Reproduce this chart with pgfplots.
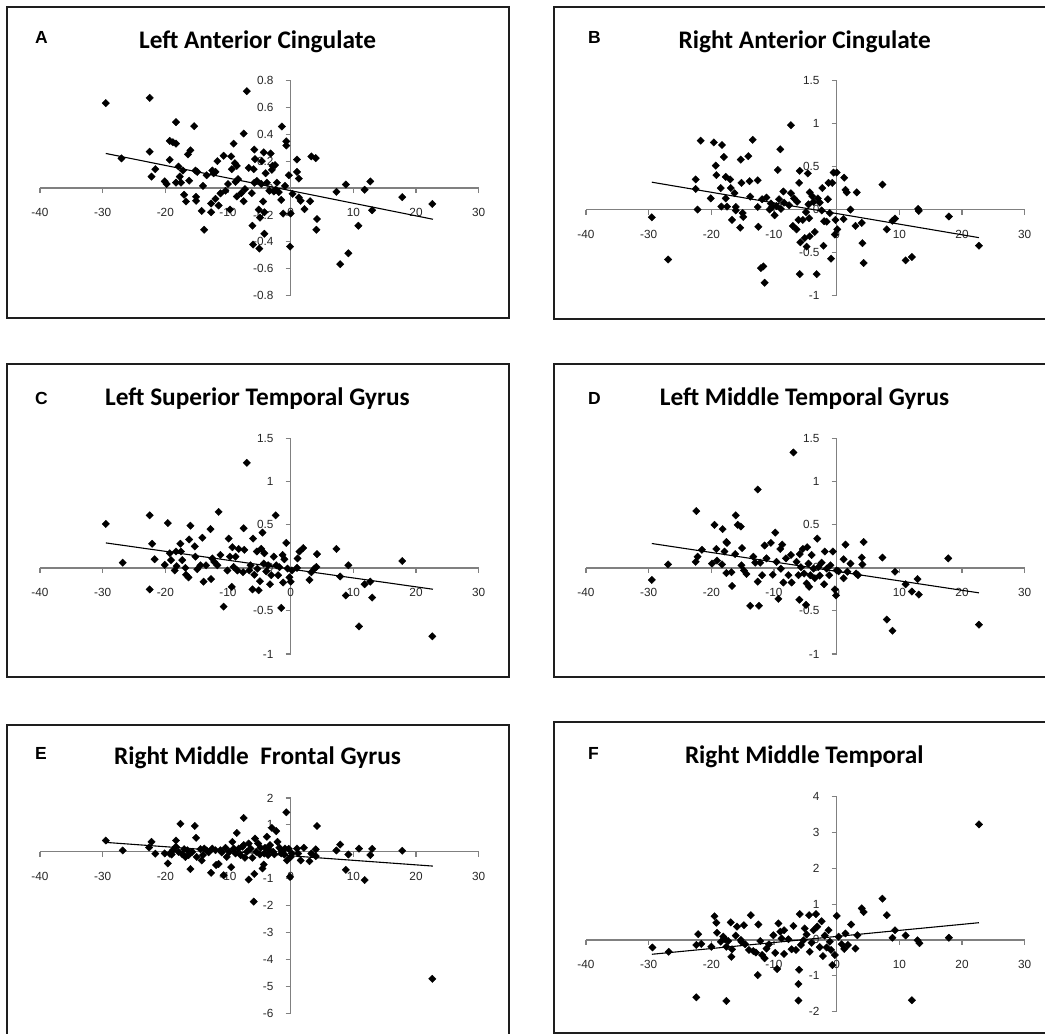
\documentclass[border=0pt]{standalone}
\usepackage{pgfplots}
\pgfplotsset{compat=1.18}
\usepackage{fontspec}
\setmainfont{Liberation Sans}
\newfontfamily\titlefont{Carlito}
\definecolor{axgray}{HTML}{808080}
\definecolor{framec}{HTML}{1E1E1E}
\pgfplotsset{
  panel/.style={
    scale only axis, width=438.7pt, height=215.3pt,
    axis lines=middle, xmin=-40, xmax=30,
    xtick={-40,-30,-20,-10,0,10,20,30},
    axis line style={draw=axgray, line width=1.3pt, -},
    tick style={draw=axgray, line width=1.1pt},
    tick align=outside, major tick length=5pt,
    hide obscured x ticks=false, hide obscured y ticks=false,
    clip=false,
    /pgf/number format/assume math mode=true,
    ticklabel style={font=\fontsize{11.8}{13}\selectfont, text=black!85},
    xticklabel style={anchor=north, inner sep=0pt, yshift=-15.5pt},
    yticklabel style={anchor=east, inner sep=0pt, xshift=-12pt},
  },
  pts/.style={only marks, mark=square*, mark size=2.6pt,
    mark options={rotate=45, fill=black, draw=black}},
  reg/.style={black, line width=1.1pt, no marks},
}
\begin{document}
\begin{tikzpicture}[x=1pt,y=1pt]
\path[use as bounding box] (0,0) rectangle (1045,1034);
% frames
\draw[framec, line width=1.6pt] (7,1027) rectangle (509,716);
\draw[framec, line width=1.6pt] (554,1027) rectangle (1052,715);
\draw[framec, line width=1.6pt] (7,670) rectangle (509,357);
\draw[framec, line width=1.6pt] (554,670) rectangle (1052,357);
\draw[framec, line width=1.6pt] (7,309) rectangle (509,-4);
\draw[framec, line width=1.6pt] (554,312) rectangle (1052,1.2);
% letters
\foreach \L/\xx/\yy in {A/35/990.7, B/588/990.7, C/35/629.7, D/588/629.7, E/35/274.7, F/588/274.7}
  \node[anchor=base west, inner sep=0pt, font=\bfseries\fontsize{17.5}{19}\selectfont] at (\xx,\yy) {\L};
% titles
\tikzset{ttl/.style={anchor=base, inner sep=0pt, font=\titlefont\bfseries\fontsize{25.3}{27}\selectfont}}
\node[ttl] at (257.5,985.7) {Left Anterior Cingulate};
\node[ttl] at (804.7,985.7) {Right Anterior Cingulate};
\node[ttl] at (257.5,628) {Left Superior Temporal Gyrus};
\node[ttl] at (804.5,628) {Left Middle Temporal Gyrus};
\node[ttl] at (257.5,269) {Right Middle\ \ Frontal Gyrus};
\node[ttl] at (804.2,270) {Right Middle Temporal};

% ---------- A ----------
\begin{axis}[panel, at={(40pt,738.3pt)}, anchor=south west,
  ymin=-0.8, ymax=0.8, ytick={-0.8,-0.6,-0.4,-0.2,0,0.2,0.4,0.6,0.8}]
\addplot[pts] coordinates {
(-29.5,0.631) (-27.0,0.22) (-22.5,0.67) (-22.5,0.27) (-22.2,0.085) (-21.6,0.14)
(-20.1,0.05) (-19.8,0.03) (-19.3,0.21) (-19.3,0.35) (-18.8,0.34) (-18.3,0.49)
(-18.3,0.33) (-18.3,0.04) (-17.9,0.16) (-17.7,0.085) (-17.5,0.04) (-17.2,0.13)
(-17.0,-0.05) (-16.7,-0.10) (-16.4,0.25) (-16.2,0.055) (-16.0,0.28) (-15.4,0.46)
(-15.2,0.13) (-15.1,-0.065) (-15.1,-0.095) (-14.9,0.12) (-14.2,-0.17) (-14.0,0.016)
(-13.8,-0.31) (-13.4,0.095) (-12.7,-0.18) (-12.7,-0.115) (-12.5,0.13) (-12.3,0.11)
(-12.0,0.12) (-12.0,-0.08) (-11.7,0.20) (-11.5,-0.13) (-11.2,-0.04) (-10.7,0.24)
(-10.4,-0.02) (-10.0,0.03) (-9.7,-0.16) (-9.5,0.235) (-9.4,0.14) (-9.1,0.33)
(-8.9,0.185) (-8.8,0.046) (-8.6,0.165) (-8.6,-0.063) (-8.4,0.066) (-7.9,-0.038)
(-7.5,0.405) (-7.5,-0.098) (-7.3,-0.008) (-7.0,0.72) (-6.7,0.15) (-6.2,-0.038)
(-6.1,-0.28) (-6.0,-0.42) (-5.9,0.14) (-5.8,0.286) (-5.8,0.039) (-5.7,0.215)
(-5.4,0.053) (-5.1,-0.16) (-5.0,-0.45) (-4.9,-0.22) (-4.7,0.031) (-4.6,0.2)
(-4.4,-0.1) (-4.3,0.265) (-4.2,-0.34) (-4.2,-0.18) (-4.0,0.11) (-3.8,0.04)
(-3.4,-0.02) (-3.2,0.257) (-3.0,0.135) (-2.9,0.165) (-2.7,-0.026) (-2.5,0.17)
(-2.4,-0.013) (-2.2,0.04) (-1.9,-0.03) (-1.5,-0.088) (-1.4,0.457) (-1.2,-0.19)
(-0.9,0.016) (-0.7,0.347) (-0.7,0.316) (-0.3,0.095) (-0.1,-0.435) (0.0,-0.19)
(0.3,-0.043) (1.0,0.212) (1.0,0.12) (1.3,0.07) (1.3,-0.07) (1.6,-0.095)
(2.2,-0.157) (3.1,-0.098) (3.3,0.235) (4.0,0.222) (4.1,-0.31) (4.2,-0.23)
(7.3,-0.028) (7.9,-0.566) (8.8,0.026) (9.2,-0.485) (10.8,-0.28) (11.8,-0.013)
(12.7,0.049) (13.0,-0.165) (17.8,-0.068) (22.6,-0.118)
};
\addplot[reg] coordinates {(-29.5,0.257) (22.7,-0.232)};
\end{axis}

% ---------- B ----------
\begin{axis}[panel, at={(586pt,738.3pt)}, anchor=south west,
  ymin=-1, ymax=1.5, ytick={-1,-0.5,0,0.5,1,1.5}]
\addplot[pts] coordinates {
(-29.5,-0.09) (-26.9,-0.58) (-22.5,0.35) (-22.5,0.24) (-22.2,0.0) (-21.7,0.80)
(-20.1,0.13) (-19.6,0.78) (-19.3,0.51) (-19.2,0.40) (-18.5,0.25) (-18.4,0.035)
(-18.3,0.75) (-18.0,0.61) (-17.7,0.13) (-17.7,0.38) (-17.5,0.035) (-17.0,0.35)
(-16.9,0.25) (-16.7,-0.12) (-16.3,0.19) (-16.1,0.03) (-16.1,-0.01) (-15.4,-0.21)
(-15.3,0.58) (-15.2,0.31) (-15.0,-0.04) (-14.9,-0.085) (-14.1,0.62) (-13.9,0.33)
(-13.8,0.15) (-13.4,0.81) (-12.6,0.03) (-12.6,0.34) (-12.5,-0.20) (-12.1,-0.68)
(-11.9,0.12) (-11.7,-0.66) (-11.5,-0.85) (-11.2,0.14) (-10.7,0.0) (-10.5,0.07)
(-10.3,0.03) (-9.9,-0.066) (-9.6,0.04) (-9.4,0.46) (-9.2,0.12) (-9.0,0.70)
(-8.9,0.008) (-8.5,0.21) (-8.4,0.08) (-7.6,0.05) (-7.3,0.98) (-7.3,0.19)
(-7.0,-0.19) (-6.8,0.13) (-6.4,-0.23) (-6.3,0.09) (-6.1,-0.12) (-6.0,0.31)
(-5.9,0.45) (-5.8,-0.38) (-5.9,-0.75) (-5.4,-0.12) (-5.1,-0.33) (-4.9,-0.03)
(-4.8,-0.43) (-4.6,0.42) (-4.5,0.06) (-4.4,-0.10) (-4.3,-0.31) (-4.3,0.20)
(-3.9,0.155) (-3.7,0.09) (-3.5,-0.26) (-3.2,-0.75) (-3.0,0.13) (-2.7,0.08)
(-2.4,-0.01) (-2.3,0.25) (-2.1,-0.42) (-2.0,-0.135) (-1.6,-0.14) (-1.4,0.12)
(-1.3,0.31) (-1.1,-0.04) (-0.9,-0.57) (-0.7,0.31) (-0.5,0.43) (-0.3,-0.29)
(-0.2,-0.12) (0.0,0.43) (0.1,-0.23) (1.1,-0.11) (1.2,0.37) (1.4,0.23)
(1.6,0.20) (2.2,0.0) (3.0,-0.19) (3.2,0.20) (4.0,-0.155) (4.1,-0.39)
(4.3,-0.62) (7.3,0.29) (8.0,-0.23) (8.9,-0.13) (9.3,-0.105) (11.0,-0.59)
(12.0,-0.55) (13.0,0.008) (13.1,-0.015) (17.9,-0.08) (22.7,-0.42)
};
\addplot[reg] coordinates {(-29.5,0.318) (22.7,-0.326)};
\end{axis}

% ---------- C ----------
\begin{axis}[panel, at={(40pt,380pt)}, anchor=south west,
  ymin=-1, ymax=1.5, ytick={-1,-0.5,0,0.5,1,1.5}]
\addplot[pts] coordinates {
(-29.5,0.51) (-26.8,0.06) (-22.5,0.61) (-22.5,-0.25) (-22.1,0.28) (-21.7,0.10)
(-20.1,0.035) (-19.6,0.52) (-19.3,0.17) (-19.1,0.09) (-18.5,-0.03) (-18.3,0.19)
(-18.2,0.02) (-17.6,0.28) (-17.5,0.19) (-17.3,0.09) (-16.8,0.0) (-16.7,-0.08)
(-16.3,-0.11) (-16.2,0.33) (-16.0,0.49) (-15.3,0.25) (-15.2,0.13) (-14.9,-0.015)
(-14.4,0.03) (-14.1,0.35) (-13.9,-0.16) (-13.5,0.03) (-12.8,0.45) (-12.7,-0.13)
(-12.5,0.11) (-12.2,0.07) (-11.7,0.03) (-11.5,0.65) (-11.2,0.15) (-10.7,-0.45)
(-10.1,-0.03) (-9.9,0.34) (-9.7,0.13) (-9.4,-0.22) (-9.3,0.24) (-9.1,0.01)
(-8.8,0.13) (-8.5,-0.03) (-8.3,0.22) (-7.6,-0.05) (-7.5,0.46) (-7.4,0.21)
(-7.0,1.22) (-6.6,-0.03) (-6.4,0.03) (-6.1,-0.25) (-6.0,0.34) (-5.8,-0.08)
(-5.4,0.19) (-5.3,-0.01) (-5.1,-0.26) (-4.9,-0.155) (-4.7,0.22) (-4.5,0.41)
(-4.3,0.05) (-4.2,0.17) (-3.9,-0.04) (-3.6,0.03) (-3.3,-0.19) (-3.1,-0.085)
(-2.7,0.13) (-2.4,0.61) (-2.3,0.03) (-2.0,-0.085) (-1.8,0.008) (-1.5,-0.465)
(-1.3,0.15) (-1.2,-0.17) (-1.0,0.10) (-0.7,0.29) (-0.5,-0.008) (-0.2,-0.11)
(0.0,-0.16) (0.2,-0.03) (1.0,0.0) (1.1,0.11) (1.4,0.19) (2.0,0.23)
(3.0,-0.14) (3.3,-0.05) (3.8,-0.008) (4.1,0.01) (4.2,0.16) (7.3,0.22)
(7.9,-0.10) (8.8,-0.32) (9.2,0.03) (10.9,-0.68) (11.8,-0.19) (12.7,-0.16)
(13.0,-0.345) (17.8,0.08) (22.6,-0.795)
};
\addplot[reg] coordinates {(-29.5,0.29) (22.7,-0.248)};
\end{axis}

% ---------- D ----------
\begin{axis}[panel, at={(586pt,380pt)}, anchor=south west,
  ymin=-1, ymax=1.5, ytick={-1,-0.5,0,0.5,1,1.5}]
\addplot[pts] coordinates {
(-29.5,-0.14) (-26.9,0.04) (-22.4,0.66) (-22.5,0.07) (-22.2,0.13) (-21.5,0.21)
(-19.9,0.05) (-19.5,0.50) (-19.2,0.22) (-19.1,0.085) (-18.3,0.04) (-18.2,0.45)
(-17.9,0.19) (-17.6,0.30) (-17.6,-0.06) (-17.5,0.29) (-16.8,-0.05) (-16.7,-0.21)
(-16.2,0.16) (-16.1,0.61) (-15.8,0.50) (-15.3,0.48) (-15.1,0.23) (-15.2,0.03)
(-14.8,-0.03) (-14.4,-0.07) (-13.8,-0.44) (-13.3,0.13) (-13.0,0.06) (-12.6,-0.16)
(-12.4,-0.44) (-12.6,0.91) (-12.2,0.06) (-11.9,-0.085) (-11.5,0.26) (-11.2,0.11)
(-10.5,0.29) (-10.2,-0.08) (-9.8,0.41) (-9.6,0.07) (-9.3,-0.36) (-9.0,0.22)
(-8.9,-0.01) (-8.7,0.27) (-8.5,-0.17) (-8.1,0.11) (-7.7,-0.085) (-7.3,0.15)
(-7.2,-0.17) (-6.9,1.34) (-6.4,0.07) (-6.1,-0.085) (-5.96,-0.37) (-5.9,0.16)
(-5.7,0.008) (-5.4,0.22) (-5.2,-0.066) (-4.9,-0.43) (-4.8,-0.18) (-4.7,0.24)
(-4.5,0.05) (-4.4,-0.22) (-4.2,-0.085) (-4.0,0.15) (-3.7,-0.008) (-3.5,-0.12)
(-3.1,0.34) (-2.9,0.01) (-2.7,-0.09) (-2.4,0.06) (-2.0,-0.19) (-1.9,0.19)
(-1.6,-0.008) (-1.2,-0.085) (-1.0,0.03) (-0.6,0.19) (-0.3,-0.25) (-0.1,-0.32)
(0.0,-0.03) (0.3,-0.04) (1.1,-0.12) (1.1,0.10) (1.4,0.27) (1.7,-0.045)
(2.2,0.05) (3.1,-0.066) (3.4,-0.085) (4.0,0.12) (4.1,0.04) (4.3,0.30)
(7.3,0.12) (8.0,-0.60) (8.9,-0.73) (9.3,-0.045) (11.0,-0.19) (12.0,-0.275)
(12.9,-0.13) (13.1,-0.31) (17.8,0.11) (22.7,-0.66)
};
\addplot[reg] coordinates {(-29.5,0.283) (22.7,-0.29)};
\end{axis}

% ---------- E ----------
\begin{axis}[panel, at={(40pt,20.7pt)}, anchor=south west,
  ymin=-6, ymax=2, ytick={-6,-5,-4,-3,-2,-1,0,1,2}]
\addplot[pts] coordinates {
(-29.5,0.42) (-26.8,0.05) (-22.2,0.37) (-22.6,0.16) (-21.6,-0.07) (-20.1,-0.06)
(-19.6,-0.43) (-19.3,-0.07) (-18.8,0.06) (-18.3,0.42) (-18.3,0.19) (-17.6,1.04)
(-17.3,-0.09) (-17.0,0.10) (-16.8,-0.19) (-16.3,-0.12) (-16.0,-0.64) (-15.3,0.96)
(-15.1,0.52) (-15.0,-0.19) (-14.4,0.10) (-14.2,-0.32) (-14.0,-0.12) (-13.4,0.05)
(-12.7,-0.78) (-12.5,0.12) (-11.9,-0.49) (-11.5,-0.45) (-11.2,0.06) (-10.7,-0.87)
(-10.2,-0.19) (-9.8,0.0) (-9.5,-0.57) (-9.3,0.37) (-9.1,0.12) (-8.8,-0.06)
(-8.6,0.70) (-8.3,0.12) (-7.5,0.25) (-7.5,1.26) (-7.3,-0.22) (-7.0,0.0)
(-6.7,-1.03) (-6.4,0.12) (-6.1,-0.22) (-5.9,-1.85) (-5.8,-0.82) (-5.7,0.49)
(-5.5,0.0) (-5.2,0.31) (-4.9,-0.10) (-4.5,-0.62) (-4.3,-0.47) (-4.1,0.15)
(-3.8,0.56) (-3.6,-0.12) (-3.3,0.25) (-3.0,0.89) (-2.8,0.0) (-2.3,0.77)
(-2.1,0.37) (-1.8,0.15) (-1.4,0.04) (-1.0,-0.10) (-0.7,1.47) (-0.6,-0.32)
(-0.3,0.11) (-0.1,-0.93) (0.0,-0.19) (0.2,-0.06) (1.0,0.12) (1.2,-0.06)
(1.6,-0.32) (2.1,0.15) (3.0,-0.35) (3.3,-0.06) (4.0,0.09) (4.2,0.96)
(4.0,-0.16) (7.3,0.05) (7.9,0.27) (8.8,-0.67) (9.2,-0.10) (10.9,0.12)
(11.8,-1.05) (12.7,-0.12) (13.0,0.11) (17.8,0.04) (22.6,-4.72)
(-19.0,-0.1) (-17.9,0.0) (-16.5,0.06) (-15.7,0.0) (-13.8,0.12) (-13.1,-0.02)
(-12.0,0.06) (-11.0,-0.02) (-10.4,0.15) (-8.0,-0.12) (-7.7,0.19) (-6.7,0.31)
(-4.8,0.15) (-4.2,-0.06) (-3.4,0.05) (-2.6,-0.09) (-1.5,-0.06) (-0.9,0.12)
};
\addplot[reg] coordinates {(-29.5,0.35) (22.7,-0.53)};
\end{axis}

% ---------- F ----------
\begin{axis}[panel, at={(586pt,22.3pt)}, anchor=south west,
  ymin=-2, ymax=4, ytick={-2,-1,0,1,2,3,4}]
\addplot[pts] coordinates {
(-29.4,-0.21) (-26.8,-0.33) (-22.4,-1.60) (-22.4,-0.14) (-22.1,0.16) (-21.6,-0.11)
(-20.0,-0.19) (-19.5,0.66) (-19.2,0.48) (-19.1,0.20) (-18.5,-0.05) (-18.1,0.09)
(-17.8,0.02) (-17.6,-1.70) (-17.6,-0.19) (-17.3,-0.03) (-16.9,0.49) (-16.8,-0.47)
(-16.7,-0.26) (-16.1,0.12) (-15.9,0.37) (-15.3,0.0) (-15.2,-0.05) (-14.8,0.41)
(-14.6,-0.12) (-14.0,-0.28) (-13.7,0.69) (-13.3,-0.31) (-12.9,-0.35) (-12.6,-0.98)
(-12.5,0.43) (-12.2,-0.03) (-11.9,-0.42) (-11.5,-0.51) (-11.2,-0.24) (-10.8,-0.12)
(-10.1,0.13) (-9.8,-0.36) (-9.5,-0.81) (-9.3,0.46) (-9.0,0.23) (-8.8,0.04)
(-8.4,0.27) (-8.4,-0.39) (-7.7,0.02) (-7.2,-0.26) (-6.9,0.39) (-6.5,-0.28)
(-6.1,-1.69) (-6.1,-1.23) (-6.0,-0.83) (-5.9,0.72) (-5.7,-0.14) (-5.3,-0.01)
(-5.1,0.32) (-4.8,0.15) (-4.4,0.69) (-4.3,-0.33) (-4.0,-0.08) (-3.7,0.27)
(-3.3,0.72) (-3.1,0.37) (-2.7,-0.20) (-2.4,0.52) (-2.2,-0.45) (-1.9,0.12)
(-1.6,-0.21) (-1.3,0.27) (-1.1,-0.05) (-0.9,-0.28) (-0.7,-0.70) (-0.3,-0.42)
(0.0,0.67) (0.3,0.09) (0.8,-0.12) (1.2,-0.25) (1.4,0.18) (1.8,-0.14)
(2.3,0.43) (3.0,-0.24) (3.3,0.13) (4.0,0.88) (4.3,0.78) (7.3,1.15)
(8.0,0.69) (8.9,0.06) (9.3,0.27) (11.0,0.125) (12.0,-1.68) (12.9,-0.01)
(13.2,-0.09) (17.9,0.06) (22.7,3.22)
};
\addplot[reg] coordinates {(-29.5,-0.40) (22.7,0.48)};
\end{axis}
\end{tikzpicture}
\end{document}
